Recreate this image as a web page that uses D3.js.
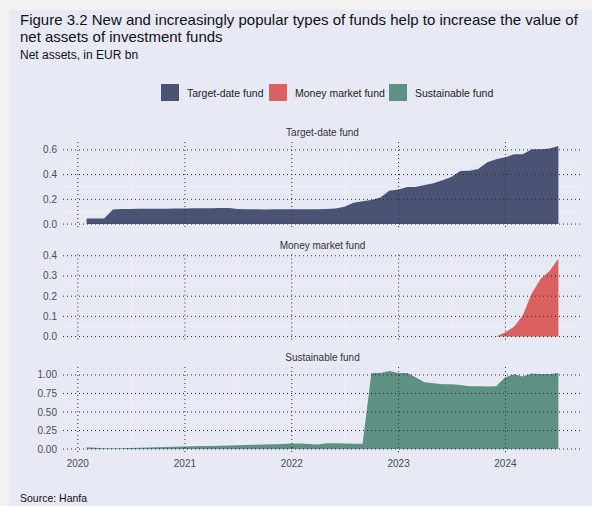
<!DOCTYPE html>
<html>
<head>
<meta charset="utf-8">
<script src="https://cdn.jsdelivr.net/npm/d3@7/dist/d3.min.js"></script>
<style>
  html, body { margin: 0; padding: 0; background: #f2f2f2; }
  svg { display: block; font-family: "Liberation Sans", Arial, Helvetica, sans-serif; }
</style>
</head>
<body>
<svg id="chart" width="592" height="506"></svg>
<script>
// Monthly net assets (EUR bn), month-end values Jan 2020 – Jun 2024
const seriesNames = ["Target-date fund", "Money market fund", "Sustainable fund"];
const seriesColors = ["#4b5274", "#db6161", "#5f9084"];

const targetDate = [
  0.046, 0.046, 0.046, 0.118, 0.121, 0.123, 0.124, 0.125, 0.124, 0.125, 0.126, 0.127,
  0.128, 0.128, 0.129, 0.130, 0.131, 0.121, 0.120, 0.119, 0.118, 0.119, 0.119, 0.120,
  0.119, 0.119, 0.120, 0.122, 0.126, 0.140, 0.172, 0.185, 0.195, 0.215, 0.270, 0.280,
  0.300, 0.300, 0.315, 0.330, 0.355, 0.380, 0.430, 0.432, 0.445, 0.500, 0.525, 0.540,
  0.565, 0.565, 0.605, 0.605, 0.612, 0.632
];
const moneyMarket = [
  0, 0, 0, 0, 0, 0, 0, 0, 0, 0, 0, 0,
  0, 0, 0, 0, 0, 0, 0, 0, 0, 0, 0, 0,
  0, 0, 0, 0, 0, 0, 0, 0, 0, 0, 0, 0,
  0, 0, 0, 0, 0, 0, 0, 0, 0, 0, 0, 0.020,
  0.050, 0.105, 0.215, 0.285, 0.325, 0.387
];
const sustainable = [
  0.024, 0.018, 0.010, 0.011, 0.013, 0.015, 0.018, 0.021, 0.024, 0.027, 0.031, 0.035,
  0.038, 0.040, 0.043, 0.046, 0.049, 0.052, 0.055, 0.058, 0.062, 0.066, 0.070, 0.074,
  0.074, 0.068, 0.063, 0.080, 0.078, 0.075, 0.073, 0.072, 1.027, 1.027, 1.054, 1.027,
  1.025, 0.968, 0.900, 0.887, 0.874, 0.874, 0.865, 0.847, 0.847, 0.845, 0.847, 0.968,
  1.009, 0.980, 1.018, 1.013, 1.013, 1.027
];
const seriesValues = [targetDate, moneyMarket, sustainable];

const yTicks = [
  [0, 0.2, 0.4, 0.6],
  [0, 0.1, 0.2, 0.3, 0.4],
  [0, 0.25, 0.5, 0.75, 1.0]
];
const yTickFormats = [".1f", ".1f", ".2f"];
const xTickYears = [2020, 2021, 2022, 2023, 2024];

// month-end dates for each observation
const dates = d3.timeMonth.range(new Date(2020, 1, 1), new Date(2024, 7, 1))
  .map(d => d3.timeDay.offset(d, -1));

const svg = d3.select("#chart");

// page background panel
svg.append("rect").attr("x", 9).attr("y", 10).attr("width", 583).attr("height", 496)
  .attr("fill", "#e7e9f5");

// header
const head = svg.append("g").attr("fill", "#111");
head.append("text").attr("x", 20).attr("y", 25).attr("font-size", 15)
  .text("Figure 3.2 New and increasingly popular types of funds help to increase the value of");
head.append("text").attr("x", 20).attr("y", 42).attr("font-size", 15)
  .text("net assets of investment funds");
head.append("text").attr("x", 20).attr("y", 59).attr("font-size", 12)
  .text("Net assets, in EUR bn");

// legend
const legendX = [161, 269, 389];
const legend = svg.append("g");
seriesNames.forEach((name, i) => {
  legend.append("rect").attr("x", legendX[i]).attr("y", 84).attr("width", 18).attr("height", 17)
    .attr("fill", seriesColors[i]);
  legend.append("text").attr("x", legendX[i] + 26).attr("y", 96.5).attr("font-size", 10.5)
    .attr("fill", "#222").text(name);
});

// shared x scale (padding of 5% either side of the data range)
const xLeft = 63, xRight = 582;
const t0 = dates[0], t1 = dates[dates.length - 1];
const span = t1 - t0;
const x = d3.scaleTime()
  .domain([new Date(+t0 - span * 0.05), new Date(+t1 + span * 0.05)])
  .range([xLeft, xRight]);

const panelTop = [142, 254.5, 367];
const panelH = 86;

seriesNames.forEach((name, i) => {
  const vals = seriesValues[i];
  const top = panelTop[i], bottom = top + panelH;
  const vmax = d3.max(vals), vmin = Math.min(0, d3.min(vals));
  const pad = (vmax - vmin) * 0.05;
  const y = d3.scaleLinear().domain([vmin - pad, vmax + pad]).range([bottom, top]);
  const g = svg.append("g");

  // facet title
  g.append("text").attr("x", (xLeft + xRight) / 2).attr("y", top - 6)
    .attr("text-anchor", "middle").attr("font-size", 10).attr("fill", "#333").text(name);

  // minor grid
  const ticks = yTicks[i];
  const step = ticks[1] - ticks[0];
  const minorY = ticks.slice(0, -1).map(t => t + step / 2);
  g.append("g").selectAll("line").data(minorY).join("line")
    .attr("x1", xLeft).attr("x2", xRight).attr("y1", d => y(d)).attr("y2", d => y(d))
    .attr("stroke", "#f3f4fa").attr("stroke-width", 0.6);
  const minorX = xTickYears.map(yr => new Date(yr, 6, 1));
  g.append("g").selectAll("line").data(minorX).join("line")
    .attr("x1", d => x(d)).attr("x2", d => x(d)).attr("y1", top).attr("y2", bottom)
    .attr("stroke", "#f3f4fa").attr("stroke-width", 0.6);

  // area
  const area = d3.area().x((d, j) => x(dates[j])).y0(y(0)).y1(d => y(d));
  g.append("path").datum(vals).attr("d", area).attr("fill", seriesColors[i]);

  // major grid (dotted), drawn over the area
  g.append("g").selectAll("line").data(ticks).join("line")
    .attr("x1", xLeft).attr("x2", xRight).attr("y1", d => y(d)).attr("y2", d => y(d))
    .attr("stroke", "#2b2b2b").attr("stroke-width", 1).attr("stroke-dasharray", "1,3");
  g.append("g").selectAll("line").data(xTickYears).join("line")
    .attr("x1", d => x(new Date(d, 0, 1))).attr("x2", d => x(new Date(d, 0, 1)))
    .attr("y1", top).attr("y2", bottom + 2)
    .attr("stroke", "#2b2b2b").attr("stroke-width", 1).attr("stroke-dasharray", "1,3");

  // y axis labels
  const fmt = d3.format(yTickFormats[i]);
  g.append("g").selectAll("text").data(ticks).join("text")
    .attr("x", 57).attr("y", d => y(d)).attr("dy", "0.35em")
    .attr("text-anchor", "end").attr("font-size", 10).attr("fill", "#4d4d4d")
    .text(d => fmt(d));

  // x axis labels on the bottom facet
  if (i === seriesNames.length - 1) {
    g.append("g").selectAll("text").data(xTickYears).join("text")
      .attr("x", d => x(new Date(d, 0, 1))).attr("y", bottom + 14)
      .attr("text-anchor", "middle").attr("font-size", 10).attr("fill", "#4d4d4d")
      .text(d => d);
  }
});

svg.append("text").attr("x", 20).attr("y", 502).attr("font-size", 10.5).attr("fill", "#111")
  .text("Source: Hanfa");
</script>
</body>
</html>
